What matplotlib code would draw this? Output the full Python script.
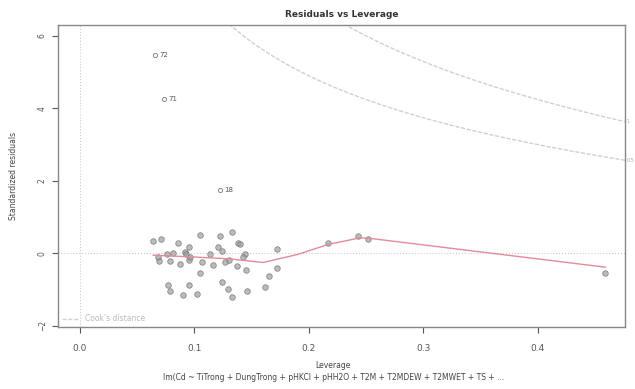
import matplotlib.pyplot as plt
import numpy as np

# leverage / standardized residuals
leverage = [0.064, 0.071, 0.086, 0.105, 0.122, 0.133, 0.138, 0.095, 0.121, 0.124,
            0.114, 0.144, 0.172, 0.068, 0.069, 0.076, 0.081, 0.092, 0.095, 0.087,
            0.079, 0.107, 0.116, 0.127, 0.130, 0.137, 0.145, 0.105, 0.172, 0.165,
            0.124, 0.077, 0.095, 0.079, 0.129, 0.146, 0.162, 0.090, 0.102, 0.133,
            0.217, 0.243, 0.252, 0.459, 0.140, 0.142, 0.093, 0.096]
std_resid = [0.33, 0.39, 0.28, 0.52, 0.47, 0.58, 0.28, 0.17, 0.17, 0.08,
             -0.03, -0.03, 0.11, -0.11, -0.22, -0.03, 0.00, 0.03, -0.17, -0.30,
             -0.22, -0.25, -0.33, -0.25, -0.17, -0.36, -0.47, -0.55, -0.41, -0.63,
             -0.80, -0.86, -0.88, -1.05, -0.99, -1.05, -0.94, -1.16, -1.13, -1.19,
             0.30, 0.47, 0.41, -0.55, 0.25, -0.11, -0.03, -0.11]

# labelled outliers
out_lev = [0.0655, 0.073, 0.122]
out_res = [5.46, 4.25, 1.74]
out_lab = ["72", "71", "18"]

# smoother (red line)
smooth_lev = [0.064, 0.10, 0.13, 0.16, 0.19, 0.217, 0.245, 0.252, 0.459]
smooth_res = [-0.05, -0.10, -0.15, -0.25, -0.03, 0.25, 0.43, 0.42, -0.38]

n_params = 12
cook_levels = [0.5, 1]
cook_labels = ["0.5", "1"]

fig = plt.figure(figsize=(6.35, 3.89), dpi=100)
ax = fig.add_axes([0.0913, 0.1594, 0.8927, 0.7763])

ax.axhline(0, color="#cccccc", lw=0.8, ls=":")
ax.axvline(0, color="#cccccc", lw=0.8, ls=":")

# Cook's distance contours
h = np.linspace(0.01, 0.5, 400)
for lvl in cook_levels:
    ax.plot(h, np.sqrt(lvl * n_params * (1 - h) / h), color="#d0d0d0", lw=1.0, ls=(0, (3, 1.2)))

ax.plot(leverage, std_resid, "o", ms=4, mfc="#a0a0a0", mec="#666666", mew=0.6, alpha=0.7)
ax.plot(out_lev, out_res, "o", ms=3, mfc="none", mec="#777777", mew=0.6)
for x, y, t in zip(out_lev, out_res, out_lab):
    ax.text(x + 0.004, y, t, fontsize=5, color="#555555", va="center")

ax.plot(smooth_lev, smooth_res, color="#e58a98", lw=1.0)

ax.plot([], [], color="#d0d0d0", lw=1.0, ls=(0, (3, 1.2)), label="Cook's distance")
ax.legend(loc="lower left", frameon=False, fontsize=5.5, labelcolor="#bbbbbb",
          handlelength=2.2, borderaxespad=0.1)

ax.set_xlim(-0.0192, 0.476)
ax.set_ylim(-2.03, 6.30)
ax.set_xticks([0.0, 0.1, 0.2, 0.3, 0.4])
ax.set_xticklabels(["0.0", "0.1", "0.2", "0.3", "0.4"])
ax.set_yticks([-2, 0, 2, 4, 6])
for lab in ax.get_yticklabels():
    lab.set_rotation(90)
    lab.set_va("center")
ax.tick_params(axis="both", labelsize=6.5, colors="#555555", length=4, width=0.8, pad=8)
ax.tick_params(axis="y", labelsize=5.5, pad=4)
for s in ax.spines.values():
    s.set_color("#888888")
    s.set_linewidth(1.0)

ax.set_title("Residuals vs Leverage", fontsize=6.5, fontweight="bold", color="#333333", pad=6)
ax.set_ylabel("Standardized residuals", fontsize=5.5, color="#444444", labelpad=14)
fig.text(0.525, 0.055, "Leverage", fontsize=5.5, color="#444444", ha="center")
fig.text(0.525, 0.022, "lm(Cd ~ TiTrong + DungTrong + pHKCl + pHH2O + T2M + T2MDEW + T2MWET + TS + ...",
         fontsize=5.5, color="#444444", ha="center")

# contour level labels in the thin right margin
h_edge = 0.476
for lvl, t in zip(cook_levels, cook_labels):
    ax.text(1.003, np.sqrt(lvl * n_params * (1 - h_edge) / h_edge), t, fontsize=3.5,
            color="#aaaaaa", va="center", ha="left", transform=ax.get_yaxis_transform())

fig.savefig("out.png", dpi=100)
